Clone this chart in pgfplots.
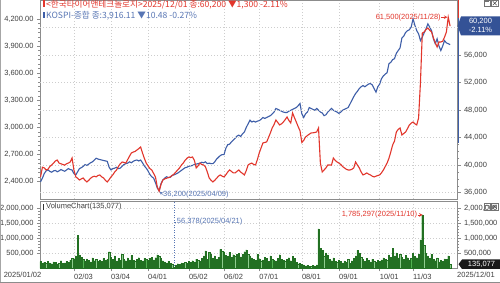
\documentclass[border=0pt]{standalone}
\usepackage{pgfplots}
\pgfplotsset{compat=1.18}
\usepackage{pgfplotstable}
\usepackage{fontspec}
\setmainfont{Liberation Sans}
\newfontfamily\kr{Noto Sans CJK KR}
\newfontfamily\sym{DejaVu Sans}
\definecolor{redl}{RGB}{226,54,44}
\definecolor{bluel}{RGB}{62,94,168}
\definecolor{bluet}{RGB}{88,118,180}
\definecolor{gridc}{RGB}{205,205,205}
\definecolor{axc}{RGB}{140,140,140}
\definecolor{txt}{RGB}{64,64,64}
\definecolor{volf}{RGB}{82,178,82}
\definecolor{vold}{RGB}{34,112,34}
\definecolor{boxb}{RGB}{52,82,150}

\pgfplotstableread{
x y
0 2399
1 2440
2 2490
3 2520
4 2530
5 2515
6 2505
7 2520
8 2525
9 2510
10 2520
11 2535
12 2525
13 2515
14 2530
15 2545
16 2535
17 2530
18 2490
19 2475
20 2510
21 2545
22 2555
23 2570
24 2590
25 2580
26 2595
27 2610
28 2620
29 2640
30 2660
31 2650
32 2645
33 2640
34 2635
35 2630
36 2625
37 2560
38 2530
39 2545
40 2550
41 2560
42 2545
43 2550
44 2570
45 2590
46 2600
47 2605
48 2620
49 2610
50 2625
51 2635
52 2640
53 2630
54 2640
55 2610
56 2575
57 2550
58 2520
59 2480
60 2455
61 2440
62 2390
63 2330
64 2300
65 2380
66 2420
67 2440
68 2455
69 2445
70 2450
71 2470
72 2475
73 2485
74 2495
75 2510
76 2525
77 2540
78 2555
79 2560
80 2570
81 2575
82 2580
83 2590
84 2595
85 2600
86 2605
87 2615
88 2610
89 2620
90 2600
91 2605
92 2600
93 2600
94 2620
95 2650
96 2670
97 2690
98 2700
99 2700
100 2770
101 2810
102 2815
103 2840
104 2860
105 2880
106 2905
107 2915
108 2900
109 2930
110 2950
111 3000
112 3040
113 3080
114 3060
115 3070
116 3060
117 3070
118 3075
119 3090
120 3110
121 3100
122 3110
123 3120
124 3130
125 3150
126 3170
127 3210
128 3200
129 3190
130 3180
131 3170
132 3165
133 3165
134 3180
135 3190
136 3200
137 3210
138 3220
139 3240
140 3265
141 3150
142 3110
143 3150
144 3170
145 3220
146 3210
147 3200
148 3190
149 3210
150 3190
151 3170
152 3160
153 3130
154 3140
155 3170
156 3190
157 3210
158 3190
159 3180
160 3170
161 3155
162 3170
163 3190
164 3200
165 3210
166 3220
167 3260
168 3300
169 3340
170 3375
171 3400
172 3430
173 3450
174 3463
175 3450
176 3465
177 3480
178 3485
179 3470
180 3430
181 3390
182 3450
183 3480
184 3540
185 3570
186 3590
187 3605
188 3705
189 3720
190 3750
191 3760
192 3820
193 3850
194 3880
195 3990
196 4010
197 4050
198 4070
199 4080
200 4110
201 4200
202 4130
203 4070
204 4035
205 3960
206 4000
207 4045
208 4090
209 4145
210 4110
211 4070
212 3980
213 3925
214 3980
215 3900
216 3850
217 3900
218 3960
219 3935
220 3926
221 3916
}\kospi

\pgfplotstableread{
x y
0 38300
1 39700
2 39600
3 39300
4 39400
5 39800
6 40030
7 40300
8 40600
9 40750
10 40300
11 40200
12 40100
13 40000
14 40200
15 40300
16 40460
17 41040
18 39300
19 38300
20 38100
21 37850
22 38000
23 38140
24 37800
25 37560
26 37800
27 38100
28 38290
29 38400
30 38300
31 38500
32 38580
33 38300
34 38140
35 37800
36 37560
37 37900
38 38290
39 38600
40 39000
41 39300
42 39800
43 40200
44 40460
45 40400
46 40300
47 40800
48 41300
49 41770
50 41900
51 42000
52 42200
53 42400
54 42640
55 41770
56 41000
57 40300
58 39900
59 39500
60 39300
61 38800
62 38290
63 36830
64 36200
65 37200
66 37850
67 38000
68 38100
69 38200
70 38290
71 38500
72 38700
73 39010
74 39300
75 39600
76 40000
77 40300
78 40700
79 41000
80 41190
81 41100
82 41190
83 40700
84 39600
85 39900
86 40300
87 40100
88 40030
89 39740
90 39000
91 38140
92 37800
93 37560
94 37800
95 38100
96 38400
97 38580
98 38400
99 38290
100 38600
101 39000
102 39300
103 39100
104 38870
105 38870
106 39100
107 39300
108 39000
109 38800
110 38580
111 39200
112 40030
113 40200
114 40300
115 40100
116 40030
117 40800
118 41770
119 42500
120 43220
121 43300
122 43370
123 44000
124 44670
125 45400
126 45900
127 46560
128 46200
129 45840
130 46000
131 46270
132 46600
133 47000
134 46500
135 46130
136 47580
137 46900
138 46270
139 45600
140 45000
141 43300
142 43600
143 44090
144 44300
145 44500
146 44670
147 44700
148 44750
149 44820
150 45400
151 40300
152 39010
153 39300
154 39600
155 40030
156 40030
157 40000
158 41040
159 40700
160 40460
161 40300
162 40100
163 39800
164 39600
165 39400
166 39300
167 39300
168 39400
169 39600
170 40460
171 40000
172 39600
173 39000
174 38580
175 38700
176 38870
177 38700
178 38580
179 38400
180 38290
181 38400
182 38500
183 38580
184 38900
185 39300
186 39800
187 40300
188 41000
189 41920
190 42930
191 43500
192 44820
193 45200
194 45400
195 44380
196 44600
197 44820
198 45300
199 45840
200 46100
201 46270
202 46000
203 45840
204 46850
205 52000
206 59190
207 59340
208 59700
209 59920
210 59600
211 59340
212 58470
213 57800
214 57160
215 57890
216 57890
217 58000
218 58600
219 59340
220 61500
221 60200
}\stock

\pgfplotstableread{
x v
0 230000
1 180000
2 210000
3 170000
4 240000
5 190000
6 160000
7 220000
8 200000
9 150000
10 180000
11 260000
12 170000
13 190000
14 230000
15 210000
16 280000
17 330000
18 300000
19 420000
20 1110000
21 450000
22 380000
23 300000
24 250000
25 320000
26 280000
27 220000
28 350000
29 260000
30 310000
31 240000
32 290000
33 230000
34 330000
35 270000
36 300000
37 560000
38 380000
39 300000
40 420000
41 250000
42 330000
43 280000
44 480000
45 300000
46 260000
47 350000
48 290000
49 440000
50 270000
51 230000
52 310000
53 360000
54 280000
55 250000
56 340000
57 300000
58 270000
59 330000
60 380000
61 290000
62 360000
63 450000
64 420000
65 330000
66 260000
67 220000
68 190000
69 240000
70 180000
71 150000
72 56378
73 120000
74 160000
75 140000
76 190000
77 170000
78 210000
79 180000
80 230000
81 200000
82 260000
83 220000
84 310000
85 270000
86 250000
87 330000
88 420000
89 590000
90 300000
91 540000
92 480000
93 350000
94 420000
95 300000
96 370000
97 640000
98 580000
99 560000
100 450000
101 400000
102 540000
103 380000
104 460000
105 420000
106 480000
107 500000
108 390000
109 470000
110 560000
111 620000
112 480000
113 420000
114 350000
115 300000
116 280000
117 470000
118 320000
119 260000
120 290000
121 380000
122 340000
123 230000
124 420000
125 300000
126 270000
127 250000
128 330000
129 460000
130 310000
131 280000
132 240000
133 300000
134 360000
135 260000
136 400000
137 330000
138 200000
139 160000
140 180000
141 140000
142 120000
143 90000
144 110000
145 80000
146 70000
147 100000
148 90000
149 120000
150 1320000
151 680000
152 600000
153 420000
154 520000
155 450000
156 300000
157 260000
158 350000
159 240000
160 200000
161 280000
162 230000
163 190000
164 250000
165 210000
166 300000
167 180000
168 260000
169 330000
170 420000
171 600000
172 520000
173 380000
174 300000
175 250000
176 330000
177 280000
178 220000
179 300000
180 250000
181 200000
182 270000
183 230000
184 290000
185 350000
186 310000
187 280000
188 450000
189 380000
190 680000
191 420000
192 520000
193 350000
194 480000
195 380000
196 300000
197 440000
198 360000
199 270000
200 330000
201 500000
202 400000
203 360000
204 480000
205 950000
206 1785297
207 780000
208 500000
209 420000
210 330000
211 480000
212 300000
213 260000
214 350000
215 220000
216 280000
217 240000
218 320000
219 300000
220 420000
221 135077
}\vol

\pgfplotsset{
  base/.style={
    scale only axis, width=417.5pt, xmin=-0.3, xmax=225,
    clip=false, scaled y ticks=false,
    axis line style={axc, line width=0.6pt},
    tick style={axc, line width=0.5pt},
    tick align=outside,
    major tick length=3pt, minor tick length=1.6pt,
    tick label style={font=\fontsize{7.5}{8}\selectfont, text=txt},
    grid style={gridc, dash pattern=on 1.2pt off 1.8pt, line width=0.5pt},
    xtick={18,38,58,80,99,118,141,161,183,201},
    /pgf/number format/assume math mode=true,
    /pgf/number format/1000 sep={,},
  },
  twodec/.style={/pgf/number format/fixed, /pgf/number format/fixed zerofill, /pgf/number format/precision=2},
  nodec/.style={/pgf/number format/fixed, /pgf/number format/precision=0},
}

\begin{document}
\begin{tikzpicture}[x=1pt,y=1pt]
\useasboundingbox (0,0) rectangle (500,283);
\fill[white] (0,0) rectangle (500,283);

% ---------- main panel, left axis: KOSPI ----------
\begin{axis}[base, twodec, at={(40pt,84pt)}, anchor=south west, height=199pt,
  ymin=2209, ymax=4409,
  ytick={2400,2700,3000,3300,3600,3900,4200},
  minor y tick num=5,
  ytick pos=left, xtick pos=bottom,
  xticklabels={}, xmajorgrids, x tick style={draw=none},
]
\addplot[bluel, line width=1.1pt] table {\kospi};
\end{axis}

% ---------- main panel, right axis: stock ----------
\begin{axis}[base, nodec, at={(40pt,84pt)}, anchor=south west, height=199pt,
  ymin=35085, ymax=63990,
  ytick={36000,40000,44000,48000,52000,56000},
  extra y ticks={60000}, extra y tick labels={},
  extra y tick style={grid=major},
  minor y tick num=3,
  axis y line*=right, axis x line=none,
  ymajorgrids,
]
\addplot[redl, line width=1.1pt] table {\stock};
\node[anchor=east, inner sep=0.5pt, text=redl, font=\fontsize{7.5}{8}\selectfont] at (216.3,61500) {61,500(2025/11/28)};
\draw[redl, line width=0.6pt, -stealth] (216.3,61500) -- (219.6,61500);
\node[anchor=west, inner sep=0.5pt, text=bluet, font=\fontsize{7.5}{8}\selectfont] at (65.8,35750) {36,200(2025/04/09)};
\draw[bluet, line width=0.5pt, -stealth] (65.9,35750) -- (64.3,36150);
\end{axis}

% ---------- volume panel ----------
\begin{axis}[base, nodec, at={(40pt,14.5pt)}, anchor=south west, height=67.5pt,
  ymin=0, ymax=2250000,
  ytick={500000,1000000,1500000,2000000},
  minor y tick num=4,
  ytick pos=left, xtick pos=bottom,
  xmajorgrids, ymajorgrids,
  xticklabels={02/03,03/04,04/01,05/02,06/02,07/01,08/01,09/01,10/01,11/03},
  xticklabel style={anchor=north west, inner xsep=0pt, yshift=0.5pt},
]
\draw[bluet, line width=0.6pt, dash pattern=on 1pt off 1.5pt] (72,0) -- (72,2250000);
\addplot[ybar, bar width=1.15pt, fill=volf, draw=vold, line width=0.25pt] table[x=x, y=v] {\vol};
\node[anchor=east, inner sep=0.5pt, text=redl, font=\fontsize{7.5}{8}\selectfont] at (203.6,1785297) {1,785,297(2025/11/10)};
\draw[redl, line width=0.6pt, -stealth] (203.6,1785297) -- (206.2,1785297);
\node[anchor=west, inner sep=0.5pt, text=bluet, font=\fontsize{7.5}{8}\selectfont] at (73.2,1550000) {56,378(2025/04/21)};
\draw[bluet, line width=0.5pt] (72.3,1550000) -- (73.2,1550000);
\end{axis}
\begin{axis}[base, nodec, at={(40pt,14.5pt)}, anchor=south west, height=67.5pt,
  ymin=0, ymax=2250000,
  ytick={500000,1000000,1500000,2000000},
  minor y tick num=4,
  axis y line*=right, axis x line=none,
]
\addplot[draw=none] coordinates {(0,0)};
\end{axis}

% edge date labels
\node[anchor=north east, inner sep=0pt, text=txt, font=\fontsize{7.5}{8}\selectfont] at (41.5,11.5) {2025/01/02};
\node[anchor=north west, inner sep=0pt, text=txt, font=\fontsize{7.5}{8}\selectfont] at (457,11.5) {2025/12/01};

% right axis coloured segments
\draw[redl, line width=1.6pt] (458.5,283) -- (458.5,265);
\draw[bluel, line width=1.6pt] (458.5,265) -- (458.5,140);

% headers
\fill[redl] (43,276) rectangle (44.6,282.5);
\node[anchor=west, inner sep=0pt, text=redl, font=\kr\fontsize{8.6}{9}\selectfont] at (46,278.6) {<한국타이어앤테크놀로지>2025/12/01 종:60,200 ▼1,300 -2.11\%};
\fill[bluel] (43,264.5) rectangle (44.6,271);
\node[anchor=west, inner sep=0pt, text=bluet, font=\kr\fontsize{8.6}{9}\selectfont] at (46,267.6) {KOSPI-종합 종:3,916.11 ▼10.48 -0.27\%};
\fill[black!80] (43,72.5) rectangle (44.4,79);
\node[anchor=west, inner sep=0pt, text=txt, font=\fontsize{7.5}{8}\selectfont] at (46,76) {VolumeChart(135,077)};

% value tags
\fill[boxb] (457.5,257) -- (461,266.5) -- (500,266.5) -- (500,247.5) -- (461,247.5) -- cycle;
\node[text=white, inner sep=0pt, font=\fontsize{7.5}{8}\selectfont] at (480.5,261.2) {60,200};
\node[text=white, inner sep=0pt, font=\fontsize{7.5}{8}\selectfont] at (480.5,252.8) {-2.11\%};
\fill[black!90] (458.5,18.8) -- (462,23.5) -- (500,23.5) -- (500,14) -- (462,14) -- cycle;
\node[text=white, inner sep=0pt, font=\fontsize{7.5}{8}\selectfont] at (481.5,18.8) {135,077};

% window icons
\foreach \yy in {276.5,73}{
  \draw[black!55, line width=0.5pt] (484,\yy) rectangle (490.5,\yy+6.5);
  \fill[black!55] (485.3,\yy+4.2) rectangle (489.2,\yy+5.2);
  \draw[black!55, line width=0.5pt] (491.5,\yy) rectangle (498,\yy+6.5);
  \draw[black!70, line width=0.6pt] (492.8,\yy+1.3) -- (496.7,\yy+5.2) (492.8,\yy+5.2) -- (496.7,\yy+1.3);
}

% frame lines
\draw[black!35, line width=0.6pt] (0.5,0) -- (0.5,283);
\draw[axc, line width=0.6pt] (0,0.5) -- (500,0.5);
\end{tikzpicture}
\end{document}
